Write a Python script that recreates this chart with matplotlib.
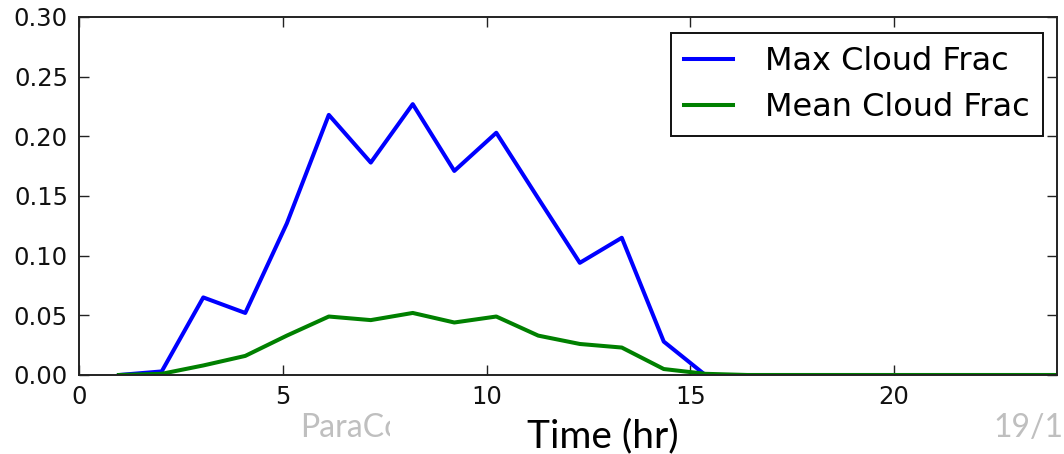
import matplotlib

matplotlib.use("Agg")
import matplotlib.pyplot as plt
from matplotlib.transforms import Bbox

# Model output times (hr) and cloud fraction diagnostics
time_hr = [0.98, 2.03, 3.05, 4.08, 5.10, 6.13, 7.16, 8.19, 9.21, 10.24,
           11.27, 12.29, 13.32, 14.35, 15.37, 16.40, 17.42, 18.45, 19.48,
           20.50, 21.53, 22.56, 23.58, 24.61]
max_cloud_frac = [0.0, 0.003, 0.065, 0.052, 0.127, 0.218, 0.178, 0.227,
                  0.171, 0.203, 0.148, 0.094, 0.115, 0.028, 0.0, 0.0, 0.0,
                  0.0, 0.0, 0.0, 0.0, 0.0, 0.0, 0.0]
mean_cloud_frac = [0.0, 0.001, 0.008, 0.016, 0.033, 0.049, 0.046, 0.052,
                   0.044, 0.049, 0.033, 0.026, 0.023, 0.005, 0.001, 0.0, 0.0,
                   0.0, 0.0, 0.0, 0.0, 0.0, 0.0, 0.0]

x_ticks = [0, 5, 10, 15, 20]
y_ticks = [0.00, 0.05, 0.10, 0.15, 0.20, 0.25, 0.30]

W, H = 1064, 454
fig = plt.figure(figsize=(W / 100, H / 100), dpi=100)
ax = fig.add_axes([79 / W, 1 - 375 / H, (1057 - 79) / W, (375 - 17) / H])

ax.plot(time_hr, max_cloud_frac, color="#0000ff", lw=2.9,
        label="Max Cloud Frac")
ax.plot(time_hr, mean_cloud_frac, color="#008000", lw=2.9,
        label="Mean Cloud Frac")

ax.set_xlim(0, 24)
ax.set_ylim(0, 0.30)
ax.set_xticks(x_ticks)
ax.set_yticks(y_ticks)
ax.set_yticklabels([f"{v:.2f}" for v in y_ticks])
ax.tick_params(direction="in", length=7, width=1, labelsize=17.5,
               top=True, right=True, colors="#222222", labelcolor="#111111")
ax.tick_params(axis="x", pad=7)
ax.tick_params(axis="y", pad=8)
for sp in ax.spines.values():
    sp.set_linewidth(1.4)
    sp.set_color("#222222")

leg = ax.legend(loc="upper right",
                bbox_to_anchor=(1043 / W, 1 - 33 / H),
                bbox_transform=fig.transFigure, borderaxespad=0,
                fontsize=23, handlelength=1.53, handletextpad=1.03,
                labelspacing=0.47, borderpad=0.4, fancybox=False,
                framealpha=1)
leg.get_frame().set_edgecolor("#111111")
leg.get_frame().set_linewidth(1.4)

# Slide text around the plot
fig.text(603 / W, 1 - 447 / H, "Time (hr)", family="Lato", fontsize=28,
         ha="center", va="baseline", color="black")
footer = fig.text(300 / W, 1 - 437 / H, "ParaCore", family="Lato",
                  fontsize=23, ha="left", va="baseline", color="#bfbfbf")
footer.set_clip_box(Bbox.from_extents(0, 0, 390, H))
footer.set_clip_on(True)
fig.text(993 / W, 1 - 437 / H, "19/1", family="Lato", fontsize=23,
         ha="left", va="baseline", color="#bfbfbf")

fig.savefig("out.png", dpi=100)
